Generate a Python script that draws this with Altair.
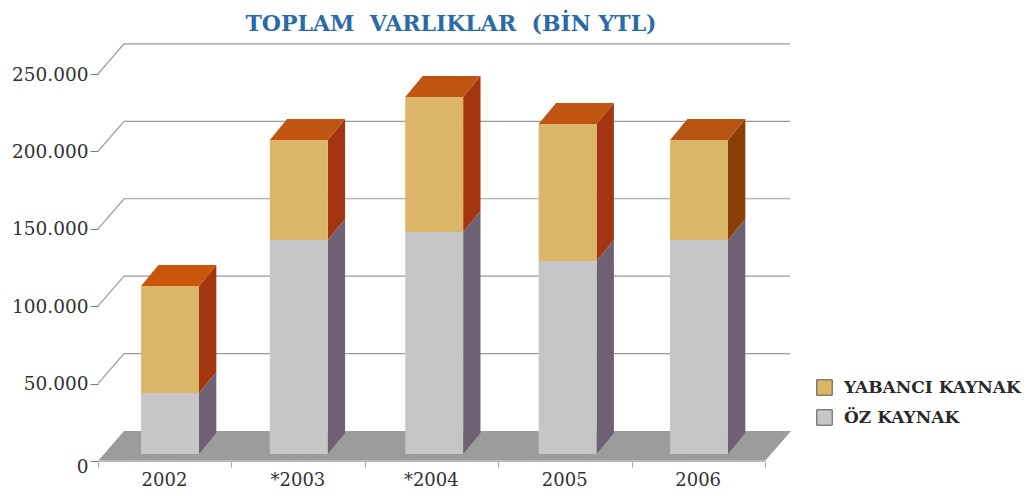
import json
import altair as alt
import pandas as pd

categories = ["2002", "*2003", "*2004", "2005", "2006"]
oz_kaynak = [39400, 138300, 143400, 124700, 138300]
yabanci_kaynak = [69100, 64600, 87200, 88500, 64600]
grid_values = [0, 50000, 100000, 150000, 200000, 250000]
series_names = ["YABANCI KAYNAK", "ÖZ KAYNAK"]

FONT = "DejaVu Serif"
X_MAX, Y_MAX = 5.187, 273256
WALL_DX, WALL_DY = 0.195, 19400      # depth of the floor
BAR_DX, BAR_DY = 0.13, 13600         # depth of a bar
BASE_DY = 4500                       # bars stand slightly inside the floor
BASE_DX = [0.04, 0.005, 0.02, 0.02, 0.005]
HALF = 0.217

side_yab = ["#a33510", "#a33510", "#a33510", "#a33510", "#8a3f05"]
top_col = ["#c9560a", "#bf5510", "#bf5510", "#bf5510", "#b85412"]

xs = alt.Scale(domain=[0, X_MAX], nice=False, zero=False)
ys = alt.Scale(domain=[0, Y_MAX], nice=False, zero=False)
x_axis = alt.Axis(
    title=None, grid=False, domain=False, values=list(range(6)), tickSize=6,
    tickColor="#aaaaaa", labelExpr=f"{json.dumps(categories)}[datum.value] || ''",
    labelOffset=66, labelFont=FONT, labelFontSize=18, labelColor="#333333",
    labelFlush=False, labelBound=False, labelOverlap=False, labelPadding=4,
)
y_axis = alt.Axis(
    title=None, grid=False, domain=False, values=grid_values, tickSize=8,
    tickColor="#777777", labelExpr="replace(format(datum.value, ','), ',', '.')",
    labelFont=FONT, labelFontSize=18.5, labelColor="#333333", labelPadding=2,
    labelOffset={"expr": "datum.value == 0 ? 5 : 0"},
)
X = alt.X("x:Q", scale=xs, axis=x_axis)
Y = alt.Y("y:Q", scale=ys, axis=y_axis)
Y2 = alt.Y2("y2:Q")

# floor
floor = pd.DataFrame([
    dict(x=0, y=0, y2=0),
    dict(x=WALL_DX, y=0, y2=WALL_DY),
    dict(x=5, y=0, y2=WALL_DY),
    dict(x=5 + WALL_DX, y=WALL_DY, y2=WALL_DY),
])
floor_layer = alt.Chart(floor).mark_area(color="#9d9c9d").encode(x=X, y=Y, y2=Y2)
edge = pd.DataFrame([dict(x=0, y=0), dict(x=5, y=0)])
edge_layer = alt.Chart(edge).mark_line(color="#b9b9b9", strokeWidth=2).encode(x=X, y=Y)

# wall grid lines
grid_rows = []
for v in grid_values[1:]:
    for i, (gx, gy) in enumerate([(0, v), (WALL_DX, v + WALL_DY), (X_MAX, v + WALL_DY)]):
        grid_rows.append(dict(x=gx, y=gy, g=v, o=i))
grid_layer = alt.Chart(pd.DataFrame(grid_rows)).mark_line(
    color="#9a9a9a", strokeWidth=1.2).encode(x=X, y=Y, detail="g:N", order="o:Q")

# bars
fronts, areas = [], []
for i, (cat, oz, yab) in enumerate(zip(categories, oz_kaynak, yabanci_kaynak)):
    left = i + 0.5 - HALF + BASE_DX[i]
    right = i + 0.5 + HALF + BASE_DX[i]
    y0, y1, y2 = BASE_DY, BASE_DY + oz, BASE_DY + oz + yab
    fronts.append(dict(x=left, x2=right, y=y0, y2=y1, s=series_names[1]))
    fronts.append(dict(x=left, x2=right, y=y1, y2=y2, s=series_names[0]))
    for low, high, col, key in [(y0, y1, "#6e6173", "o"), (y1, y2, side_yab[i], "y")]:
        areas.append(dict(x=right, y=low, y2=high, c=col, k=f"{i}{key}"))
        areas.append(dict(x=right + BAR_DX, y=low + BAR_DY, y2=high + BAR_DY, c=col, k=f"{i}{key}"))
    for tx, a, b in [(left, y2, y2), (left + BAR_DX, y2, y2 + BAR_DY),
                     (right, y2, y2 + BAR_DY), (right + BAR_DX, y2 + BAR_DY, y2 + BAR_DY)]:
        areas.append(dict(x=tx, y=a, y2=b, c=top_col[i], k=f"{i}t"))

area_layer = alt.Chart(pd.DataFrame(areas)).mark_area().encode(
    x=X, y=Y, y2=Y2, detail="k:N",
    color=alt.Color("c:N", scale=None, legend=None))
front_layer = alt.Chart(pd.DataFrame(fronts)).mark_rect().encode(
    x=X, x2=alt.X2("x2:Q"), y=Y, y2=Y2,
    color=alt.Color("s:N", sort=series_names,
                    scale=alt.Scale(domain=series_names, range=["#dcb668", "#c6c5c7"]),
                    legend=alt.Legend(
                        title=None, orient="none", legendX=718, legendY=341,
                        symbolType="square", symbolSize=240, symbolOpacity=1,
                        symbolStrokeColor="#555555", symbolStrokeWidth=1,
                        labelFont=FONT, labelFontSize=17, labelFontWeight="bold",
                        labelColor="#2a2a2a", labelOffset=11, rowPadding=9,
                        labelLimit=230)))

chart = alt.layer(grid_layer, floor_layer, edge_layer, area_layer, front_layer).resolve_scale(
    color="independent").properties(
    width=692, height=423,
    padding={"left": 90, "top": 30, "right": 238, "bottom": 27},
    autosize=alt.AutoSizeParams(type="none"),
    title=alt.TitleParams(
        "TOPLAM\u00a0\u00a0VARLIKLAR\u00a0\u00a0(BİN YTL)", font=FONT, fontSize=22,
        fontWeight="bold", color="#2a6aa6", anchor="middle", dx=7, offset=2),
).configure_view(stroke=None)

chart.save("out.html", embed_options={"renderer": "svg", "actions": False})
